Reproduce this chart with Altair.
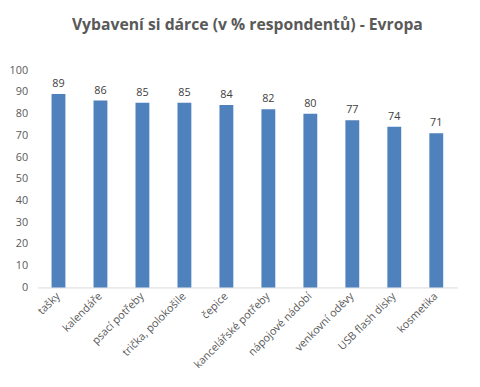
import altair as alt
import pandas as pd

categories = ["tašky", "kalendáře", "psací potřeby", "trička, polokošile", "čepice",
              "kancelářské potřeby", "nápojové nádobí", "venkovní oděvy", "USB flash disky", "kosmetika"]
values = [89, 86, 85, 85, 84, 82, 80, 77, 74, 71]
y_ticks = [0, 10, 20, 30, 40, 50, 60, 70, 80, 90, 100]

df = pd.DataFrame({"kategorie": categories, "hodnota": values})

FONT = "Open Sans"
GRAY = "#595959"

x = alt.X("kategorie:N", sort=categories,
          scale=alt.Scale(paddingInner=0.67, paddingOuter=0.335),
          axis=alt.Axis(title=None, labelAngle=-45, labelAlign="right", labelBaseline="middle",
                        labelFontSize=11, labelColor=GRAY, labelFont=FONT, ticks=False,
                        domainColor="#d9d9d9", labelPadding=7, labelOverlap=False))
y = alt.Y("hodnota:Q", scale=alt.Scale(domain=[0, 100]),
          axis=alt.Axis(title=None, values=y_ticks, grid=False, domain=False,
                        ticks=False, labelFontSize=11, labelColor=GRAY, labelFont=FONT,
                        labelPadding=10, labelOverlap=False))

base = alt.Chart(df).encode(x=x, y=y)
bars = base.mark_bar(color="#4F81BD")
text = base.mark_text(dy=-10, fontSize=11, color="#404040", font=FONT).encode(text="hodnota:Q")

chart = alt.layer(bars, text).properties(
    width=427, height=221,
    title=alt.TitleParams("Vybavení si dárce (v % respondentů) - Evropa", fontSize=16,
                          font=FONT, fontWeight="bold", color=GRAY, offset=32, anchor="middle"),
    autosize=alt.AutoSizeParams(type="none"),
    padding={"left": 30, "top": 60, "right": 15, "bottom": 97},
).configure(background="white").configure_view(stroke=None)

chart.save("out.html", embed_options={"renderer": "svg", "actions": False})
